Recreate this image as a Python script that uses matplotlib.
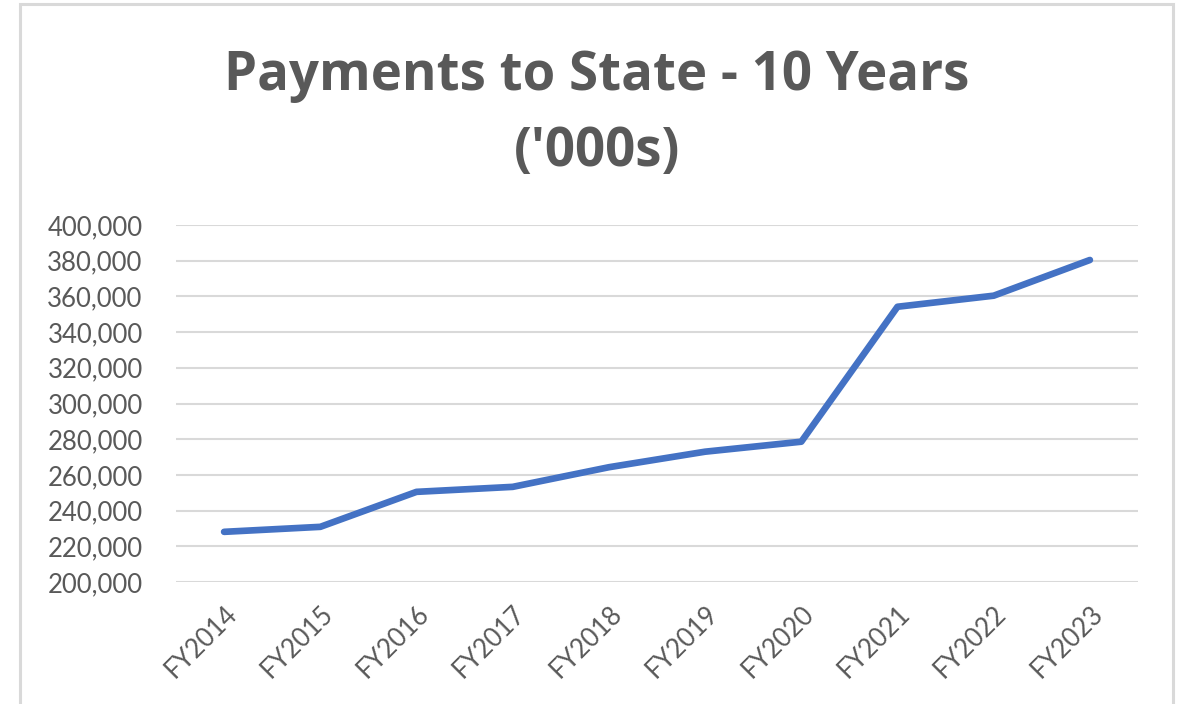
import matplotlib.pyplot as plt
from matplotlib.patches import Rectangle
from matplotlib.ticker import FuncFormatter

# Données
years = ["FY2014", "FY2015", "FY2016", "FY2017", "FY2018",
         "FY2019", "FY2020", "FY2021", "FY2022", "FY2023"]
payments = [228100, 230900, 250500, 253300, 264300,
            273000, 278600, 354200, 360400, 380400]
y_ticks = list(range(200000, 400001, 20000))

grey_text = '#595959'
grid_col = '#D9D9D9'
line_col = '#4472C4'

plt.rcParams['font.family'] = ['Lato', 'DejaVu Sans']

fig = plt.figure(figsize=(11.83, 7.04), dpi=100)
ax = fig.add_axes([176 / 1183, 1 - 582 / 704, (1138 - 176) / 1183, (582 - 225) / 704])

# Cadre du graphique (style Excel)
fig.patches.append(Rectangle((20 / 1183, -0.05), (1173 - 20) / 1183, 1.05 - 4 / 704,
                             transform=fig.transFigure, fill=False,
                             edgecolor=grid_col, linewidth=2.2))

x = list(range(len(years)))
ax.plot(x, payments, color=line_col, linewidth=4.8, solid_capstyle='round',
        solid_joinstyle='round', zorder=3)

ax.set_xlim(-0.5, len(years) - 0.5)
ax.set_ylim(200000, 400000)
ax.set_yticks(y_ticks)
ax.yaxis.set_major_formatter(FuncFormatter(lambda v, p: f"{int(v):,}"))
ax.set_xticks(x)
ax.set_xticklabels(years, rotation=45, ha='right', rotation_mode='anchor')

ax.grid(axis='y', color=grid_col, linewidth=1.5)
ax.set_axisbelow(True)
for s in ax.spines.values():
    s.set_visible(False)
ax.tick_params(axis='both', length=0, colors=grey_text, labelsize=18.5)
ax.tick_params(axis='y', pad=24)
ax.tick_params(axis='x', pad=14)

# Titre sur deux lignes
fig.text(597 / 1183, 1 - 76 / 704, "Payments to State - 10 Years",
         ha='center', va='center', fontsize=38, fontweight='bold',
         color=grey_text, family=['Open Sans', 'DejaVu Sans'])
fig.text(597 / 1183, 1 - 152 / 704, "('000s)",
         ha='center', va='center', fontsize=38, fontweight='bold',
         color=grey_text, family=['Open Sans', 'DejaVu Sans'])

fig.savefig("out.png", dpi=100)
